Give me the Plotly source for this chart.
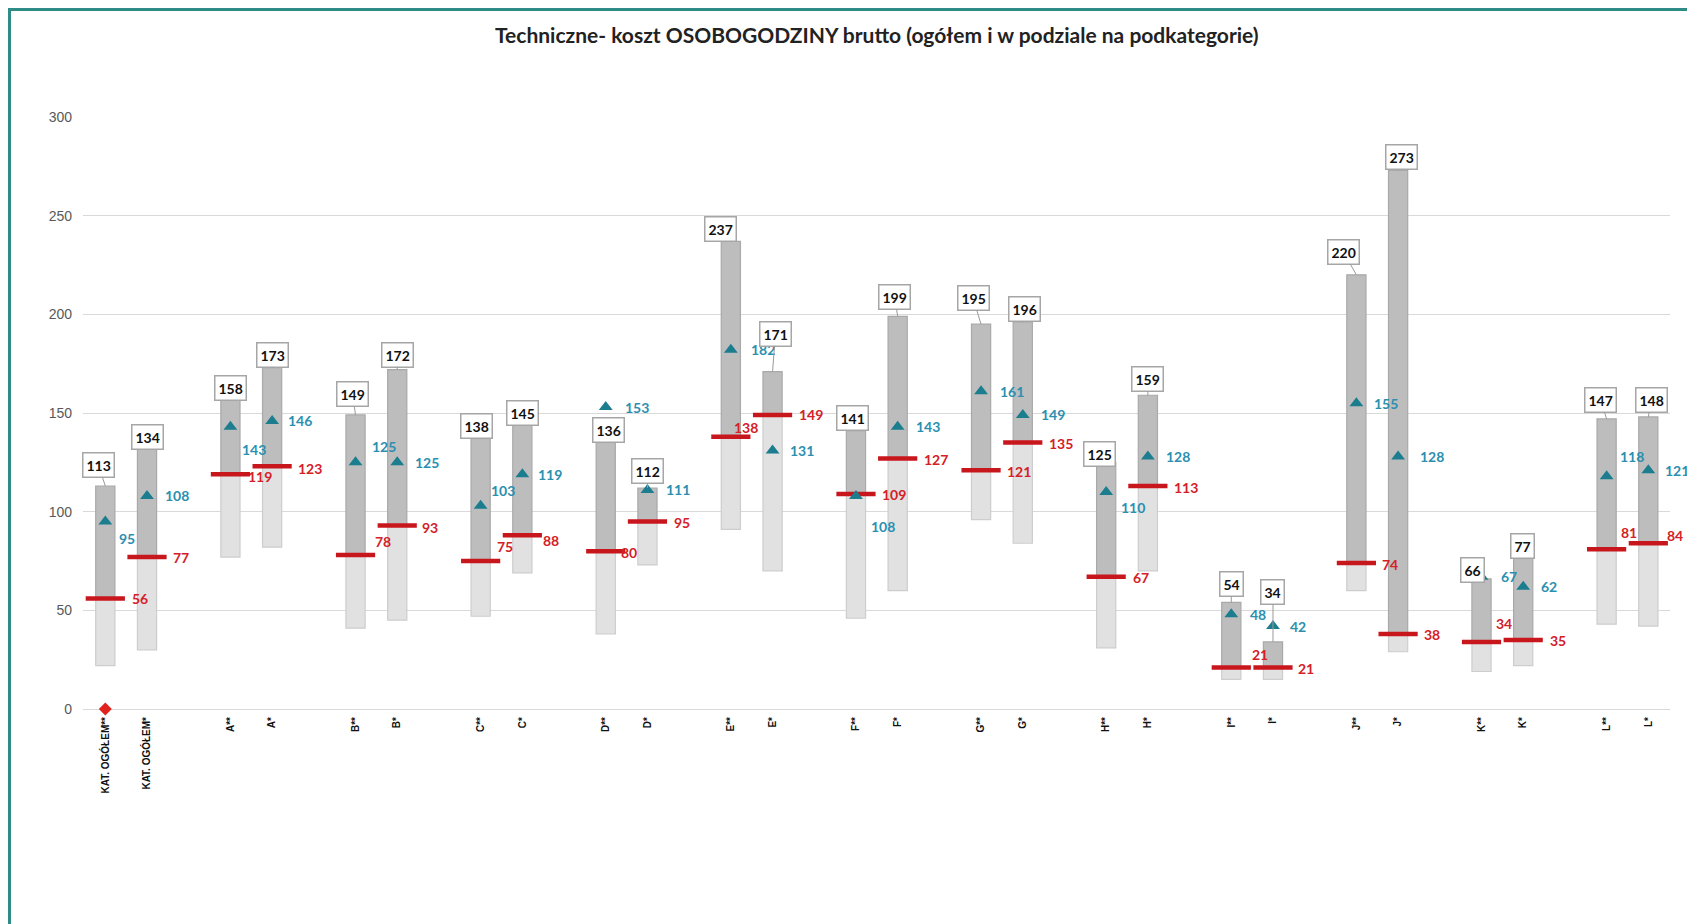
import plotly.graph_objects as go

# ---------------- data ----------------
categories = ["KAT. OGÓŁEM**", "KAT. OGÓŁEM*",
              "A**", "A*", "B**", "B*", "C**", "C*", "D**", "D*",
              "E**", "E*", "F**", "F*", "G**", "G*", "H**", "H*",
              "I**", "I*", "J**", "J*", "K**", "K*", "L**", "L*"]
min_vals = [22, 30, 77, 82, 41, 45, 47, 69, 38, 73, 91, 70, 46, 60,
            96, 84, 31, 70, 15, 15, 60, 29, 19, 22, 43, 42]
median_vals = [56, 77, 119, 123, 78, 93, 75, 88, 80, 95, 138, 149, 109, 127,
               121, 135, 67, 113, 21, 21, 74, 38, 34, 35, 81, 84]
mean_vals = [95, 108, 143, 146, 125, 125, 103, 119, 153, 111, 182, 131, 108, 143,
             161, 149, 110, 128, 48, 42, 155, 128, 67, 62, 118, 121]
max_vals = [113, 134, 158, 173, 149, 172, 138, 145, 136, 112, 237, 171, 141, 199,
            195, 196, 125, 159, 54, 34, 220, 273, 66, 77, 147, 148]
marker_cat = ["KAT. OGÓŁEM**"]
marker_vals = [0]
y_ticks = [0, 50, 100, 150, 200, 250, 300]
title_text = "Techniczne- koszt OSOBOGODZINY brutto (ogółem i w podziale na podkategorie)"

# ---------------- label placement (styling) ----------------
mean_off = [(12, -17), (16, 0), (10, -23), (14, 0), (14, 16), (16, 0), (8, 15), (14, 0),
            (17, 0), (17, 0), (18, 0), (15, 0), (13, -31), (16, 0), (17, 0), (16, 0),
            (13, -16), (16, 0), (17, 0), (15, 0), (16, 0), (20, 0), (17, 0), (16, 0),
            (11, 20), (15, 0)]
med_off = [(25, 0), (24, 0), (16, -2), (24, -2), (17, 14), (23, -2), (14, 15), (19, -5),
           (13, -1), (25, -1), (1, 9), (24, 0), (24, -1), (24, -1), (24, -1), (24, -1),
           (25, -1), (24, -1), (19, 13), (23, -1), (24, -2), (24, 0), (12, 18), (25, -1),
           (12, 17), (17, 8)]
max_off = [(-7, -21), (0, -8), (0, -9), (0, -13), (-3, -21), (0, -15), (-4, -11), (0, -10),
           (3, -11), (0, -17), (-10, -12), (3, -38), (-3, -13), (-3, -19), (-8, -26), (2, -13),
           (-7, -8), (0, -16), (0, -18), (0, -50), (-13, -23), (3, -13), (-9, -9), (-1, -11),
           (-6, -19), (3, -17)]

# x positions: pairs separated by an empty slot
xpos = [(i // 2) * 3 + (i % 2) for i in range(len(categories))]
cat_x = dict(zip(categories, xpos))

FONT = "Lato"
RED = "#c8161d"
RED_TXT = "#d42027"
TEAL = "#1b7d8e"
TEAL_TXT = "#2b8fb0"
BW = 0.46
LBL = 14

fig = go.Figure()

fig.add_trace(go.Bar(
    x=xpos, base=min_vals, y=[m - n for m, n in zip(median_vals, min_vals)],
    width=BW, marker=dict(color="#e1e1e1", line=dict(color="#cdcdcd", width=1.2)),
    hoverinfo="skip", showlegend=False))
fig.add_trace(go.Bar(
    x=xpos, base=median_vals, y=[m - n for m, n in zip(max_vals, median_vals)],
    width=BW, marker=dict(color="#bdbdbd", line=dict(color="#a9a9a9", width=1.2)),
    hoverinfo="skip", showlegend=False))
fig.add_trace(go.Scatter(
    x=xpos, y=median_vals, mode="markers",
    marker=dict(symbol="line-ew", size=28, line=dict(color=RED, width=4.5)),
    showlegend=False, hoverinfo="skip", cliponaxis=False))
fig.add_trace(go.Scatter(
    x=xpos, y=mean_vals, mode="markers",
    marker=dict(symbol="triangle-up", size=12, color=TEAL),
    showlegend=False, hoverinfo="skip", cliponaxis=False))
fig.add_trace(go.Scatter(
    x=[cat_x[c] for c in marker_cat], y=marker_vals, mode="markers",
    marker=dict(symbol="diamond", size=10, color="#e0231f"),
    showlegend=False, hoverinfo="skip", cliponaxis=False))

ann = []
for i, x in enumerate(xpos):
    ann.append(dict(x=x, y=mean_vals[i], text=f"<b>{mean_vals[i]}</b>", showarrow=False,
                    xanchor="left", yanchor="middle", xshift=mean_off[i][0], yshift=mean_off[i][1],
                    font=dict(family=FONT, size=LBL, color=TEAL_TXT)))
    ann.append(dict(x=x, y=median_vals[i], text=f"<b>{median_vals[i]}</b>", showarrow=False,
                    xanchor="left", yanchor="middle", xshift=med_off[i][0], yshift=med_off[i][1],
                    font=dict(family=FONT, size=LBL, color=RED_TXT)))
    ann.append(dict(x=x, y=max_vals[i], text=f"<b>{max_vals[i]}</b>", showarrow=True,
                    ax=max_off[i][0], ay=max_off[i][1], arrowhead=0, arrowwidth=1,
                    arrowcolor="#9a9a9a", standoff=0,
                    bgcolor="white", bordercolor="#a6a6a6", borderwidth=1.5, borderpad=3,
                    font=dict(family=FONT, size=LBL, color="#111111")))

PLOT_H = 592
PLOT_W = 1587
T = 109
L = 75
ann.append(dict(x=0.5, y=1 + (T + 8 - 35) / PLOT_H, xref="paper", yref="paper",
                text=f"<b>{title_text}</b>", showarrow=False, xanchor="center", yanchor="middle",
                font=dict(family=FONT, size=21, color="#222222")))

fig.update_layout(
    width=1695, height=924,
    margin=dict(l=L, r=1695 - L - PLOT_W, t=T, b=924 - T - PLOT_H),
    paper_bgcolor="white", plot_bgcolor="white",
    barmode="overlay",
    annotations=ann,
    font=dict(family=FONT),
    shapes=[dict(type="rect", xref="paper", yref="paper",
                 x0=(1.5 - L) / PLOT_W, x1=1.2, y0=-0.6, y1=1 + (T - 1.5) / PLOT_H,
                 line=dict(color="#2e8b86", width=3), layer="above")],
    xaxis=dict(range=[-0.535, 37.52], tickmode="array", tickvals=xpos,
               ticktext=[f"<b>{c}</b>" for c in categories], tickangle=-90,
               tickfont=dict(family="Liberation Sans", size=10, color="#111111"),
               ticklabelstandoff=5,
               showgrid=False, zeroline=False, showline=False, ticks="", ticklen=0),
    yaxis=dict(range=[0, 300], tickvals=y_ticks, showgrid=True, gridcolor="#d9d9d9",
               gridwidth=1.3, zeroline=True, zerolinecolor="#d9d9d9", zerolinewidth=1.3,
               tickfont=dict(family="Liberation Sans", size=14, color="#595959"),
               ticklabelstandoff=10,
               ticks="", showline=False),
)

fig.write_html("out.html")
